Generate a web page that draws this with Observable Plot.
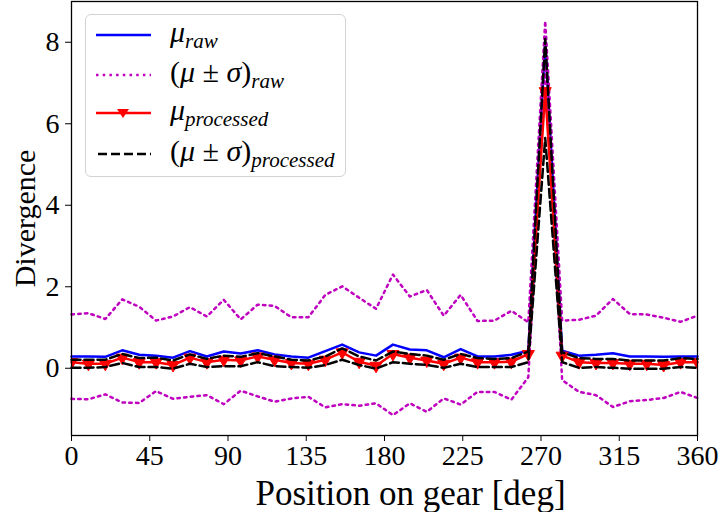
<!DOCTYPE html>
<html><head><meta charset="utf-8">
<script src="https://cdn.jsdelivr.net/npm/d3@7"></script>
<script src="https://cdn.jsdelivr.net/npm/@observablehq/plot@0.6"></script>
<style>
body{margin:0;background:#fff;}
#wrap{position:relative;width:720px;height:512px;}
#legend{position:absolute;left:85px;top:14px;width:261px;height:163px;border:1.5px solid #d3d3d3;border-radius:6px;background:rgba(255,255,255,0.85);box-sizing:border-box;font-family:"Liberation Serif",serif;}
.h{position:absolute;left:9px;width:58px;height:20px;}
.t{position:absolute;left:84px;font-size:30px;line-height:30px;white-space:nowrap;}
.t sub{font-size:21px;font-style:italic;vertical-align:-6px;line-height:0;}
</style></head>
<body><div id="wrap"></div>
<script>
const positions = [0,9.73,19.46,29.19,38.92,48.65,58.38,68.11,77.84,87.57,97.30,107.03,116.76,126.49,136.22,145.95,155.68,165.41,175.14,184.86,194.59,204.32,214.05,223.78,233.51,243.24,252.97,262.70,272.43,282.16,291.89,301.62,311.35,321.08,330.81,340.54,350.27,360];
const rawMean = [0.29,0.29,0.28,0.44,0.33,0.31,0.26,0.42,0.29,0.41,0.36,0.44,0.34,0.29,0.26,0.42,0.58,0.39,0.31,0.58,0.46,0.44,0.27,0.47,0.29,0.29,0.33,0.43,8.0,0.43,0.31,0.33,0.37,0.29,0.29,0.28,0.29,0.29];
const rawUpper = [1.32,1.35,1.21,1.69,1.51,1.17,1.27,1.50,1.27,1.68,1.20,1.56,1.53,1.25,1.25,1.80,2.01,1.73,1.46,2.30,1.76,1.92,1.29,1.80,1.16,1.17,1.41,1.13,8.52,1.17,1.19,1.29,1.70,1.33,1.32,1.24,1.14,1.29];
const rawLower = [-0.75,-0.76,-0.64,-0.84,-0.85,-0.56,-0.75,-0.70,-0.66,-0.88,-0.55,-0.69,-0.82,-0.74,-0.70,-0.96,-0.88,-0.92,-0.86,-1.15,-0.86,-1.07,-0.74,-0.89,-0.58,-0.58,-0.77,-0.22,7.5,-0.29,-0.58,-0.66,-0.95,-0.81,-0.78,-0.73,-0.58,-0.73];
const procMean = [0.15,0.11,0.11,0.26,0.15,0.15,0.08,0.26,0.15,0.21,0.19,0.29,0.21,0.13,0.11,0.21,0.39,0.16,0.06,0.35,0.26,0.19,0.11,0.26,0.15,0.15,0.16,0.35,6.8,0.31,0.15,0.13,0.13,0.11,0.11,0.08,0.15,0.15];
const procUpper = [0.21,0.21,0.21,0.35,0.25,0.26,0.19,0.34,0.23,0.31,0.28,0.37,0.29,0.21,0.19,0.29,0.49,0.29,0.19,0.41,0.35,0.31,0.21,0.35,0.25,0.23,0.25,0.41,8.08,0.39,0.25,0.23,0.23,0.19,0.19,0.19,0.25,0.23];
const procLower = [0.01,0.01,0.03,0.13,0.03,0.03,-0.01,0.11,0.03,0.05,0.05,0.15,0.05,0.03,0.01,0.08,0.21,0.08,-0.01,0.15,0.11,0.08,0.01,0.11,0.03,0.03,0.03,0.15,5.65,0.15,0.01,0.03,0.01,-0.01,-0.01,-0.01,0.03,0.01];
const xTicks = [0,45,90,135,180,225,270,315,360];
const yTicks = [0,2,4,6,8];
const xLabel = "Position on gear [deg]";
const yLabel = "Divergence";

const rows = positions.map((p,i)=>({p, rawMean:rawMean[i], rawUpper:rawUpper[i], rawLower:rawLower[i], procMean:procMean[i], procUpper:procUpper[i], procLower:procLower[i]}));

const dotted = {stroke:"#bf00bf", strokeWidth:2.5, strokeDasharray:"2.5,4.2"};
const dashed = {stroke:"black", strokeWidth:2.5, strokeDasharray:"9,4"};

const chart = Plot.plot({
  width:720, height:512,
  marginLeft:71, marginRight:23, marginTop:1, marginBottom:77,
  style:{fontFamily:"Liberation Serif, serif", fontSize:"28px", color:"black", background:"white"},
  x:{domain:[0,360]},
  y:{domain:[-1.65,9]},
  marks:[
    Plot.axisX({ticks:xTicks, tickSize:6, tickPadding:4, fontSize:28, label:null}),
    Plot.text([xLabel], {text:d=>d, frameAnchor:"bottom", lineAnchor:"middle", dy:58, dx:26, fontSize:35}),
    Plot.axisY({ticks:yTicks, tickSize:6, tickPadding:6, fontSize:28, label:null}),
    Plot.axisY({ticks:[], fontSize:30, label:yLabel, labelAnchor:"center", labelOffset:58, labelArrow:"none"}),
    Plot.lineY(rows,{x:"p", y:"rawMean", stroke:"#0000ff", strokeWidth:2.5}),
    Plot.lineY(rows,{x:"p", y:"rawUpper", ...dotted}),
    Plot.lineY(rows,{x:"p", y:"rawLower", ...dotted}),
    Plot.lineY(rows,{x:"p", y:"procMean", stroke:"#ff0000", strokeWidth:2.5}),
    Plot.dot(rows,{x:"p", y:"procMean", symbol:"triangle", rotate:180, r:4.5, fill:"#ff0000", stroke:"#ff0000", strokeWidth:1, clip:true}),
    Plot.lineY(rows,{x:"p", y:"procUpper", ...dashed}),
    Plot.lineY(rows,{x:"p", y:"procLower", ...dashed}),
    Plot.frame({stroke:"black", strokeWidth:1.3})
  ]
});
const wrap = document.getElementById("wrap");
wrap.appendChild(chart);

const legendItems = [
  {handle:'<line x1="1" y1="10" x2="56" y2="10" stroke="#0000ff" stroke-width="2.5"/>', text:'<i>μ</i><sub>raw</sub>', top:20},
  {handle:'<line x1="1" y1="10" x2="56" y2="10" stroke="#bf00bf" stroke-width="2.5" stroke-dasharray="2.5,4.2"/>', text:'(<i>μ</i> ± <i>σ</i>)<sub>raw</sub>', top:60},
  {handle:'<line x1="1" y1="10" x2="56" y2="10" stroke="#ff0000" stroke-width="2.5"/><path d="M22,6 L34,6 L28,15 Z" fill="#ff0000"/>', text:'<i>μ</i><sub>processed</sub>', top:98},
  {handle:'<line x1="3" y1="10" x2="56" y2="10" stroke="black" stroke-width="2.5" stroke-dasharray="9,4"/>', text:'(<i>μ</i> ± <i>σ</i>)<sub>processed</sub>', top:139}
];
const lg = document.createElement("div");
lg.id = "legend";
lg.innerHTML = legendItems.map(d =>
  `<svg class="h" style="top:${d.top-10}px" viewBox="0 0 58 20">${d.handle}</svg><div class="t" style="top:${d.top-18}px">${d.text}</div>`
).join("");
wrap.appendChild(lg);
</script>
</body></html>
